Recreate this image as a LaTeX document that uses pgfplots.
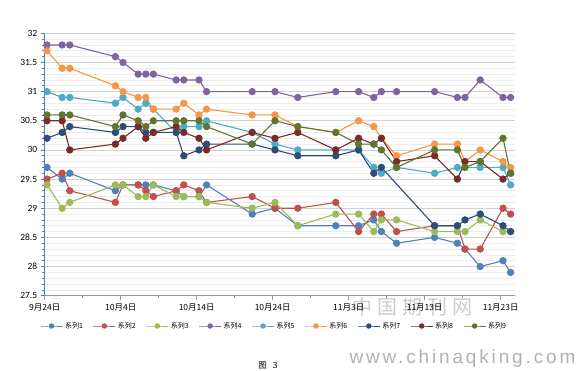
\documentclass[border=0pt]{standalone}
\usepackage{fontspec}
\setmainfont{Carlito}
\newfontfamily\cjk{Noto Sans CJK SC}
\newfontfamily\wm[LetterSpace=15]{Liberation Sans}
\usepackage{pgfplots}
\usepackage{pgfplotstable}
\pgfplotsset{compat=1.18}
\definecolor{c1}{HTML}{4F81BD}
\definecolor{c2}{HTML}{C0504D}
\definecolor{c3}{HTML}{9BBB59}
\definecolor{c4}{HTML}{8064A2}
\definecolor{c5}{HTML}{4BACC6}
\definecolor{c6}{HTML}{F79646}
\definecolor{c7}{HTML}{2C4D75}
\definecolor{c8}{HTML}{772C2A}
\definecolor{c9}{HTML}{5F7530}
\definecolor{axblue}{HTML}{4A7EBB}
\pgfplotstableread{
d s1 s2 s3 s4 s5 s6 s7 s8 s9
0 29.7 29.5 29.4 31.8 31.0 31.7 30.2 30.5 30.6
2 29.5 29.6 29.0 31.8 30.9 31.4 30.3 30.5 30.6
3 29.6 29.3 29.1 31.8 30.9 31.4 30.4 30.0 30.6
9 29.3 29.1 29.4 31.6 30.8 31.1 30.3 30.1 30.4
10 29.4 29.4 29.4 31.5 30.9 31.0 30.4 30.2 30.6
12 29.4 29.4 29.2 31.3 30.7 30.9 30.4 30.4 30.5
13 29.4 29.3 29.2 31.3 30.8 30.9 30.3 30.2 30.4
14 29.4 29.2 29.4 31.3 30.7 30.7 30.3 30.3 30.5
17 29.3 29.3 29.2 31.2 30.3 30.7 30.3 30.4 30.5
18 29.2 29.4 29.2 31.2 30.4 30.8 29.9 30.3 30.5
20 29.2 29.3 29.2 31.2 30.4 30.6 30.0 30.2 30.5
21 29.4 29.1 29.1 31.0 30.5 30.7 30.1 30.0 30.4
27 28.9 29.2 29.0 31.0 30.3 30.6 30.1 30.3 30.1
30 29.0 29.0 29.1 31.0 30.1 30.6 30.0 30.2 30.5
33 28.7 29.0 28.7 30.9 30.0 30.4 29.9 30.3 30.4
38 28.7 29.1 28.9 31.0 30.0 30.3 29.9 30.0 30.3
41 28.7 28.6 28.9 31.0 30.0 30.5 30.0 30.2 30.1
43 28.8 28.9 28.6 30.9 29.7 30.4 29.6 30.1 30.1
44 28.6 28.9 28.8 31.0 29.6 30.2 29.7 30.2 30.0
46 28.4 28.6 28.8 31.0 29.7 29.9 nan 29.8 29.7
51 28.5 28.7 28.6 31.0 29.6 30.1 28.7 29.9 30.0
54 28.4 28.7 28.6 30.9 29.7 30.1 28.7 29.5 30.0
55 28.3 28.3 28.6 30.9 29.7 29.8 28.8 29.8 29.7
57 28.0 28.3 28.8 31.2 29.7 30.0 28.9 29.8 29.8
60 28.1 29.0 28.6 30.9 29.7 29.8 28.7 29.5 30.2
61 27.9 28.9 28.6 30.9 29.4 29.7 28.6 29.6 29.6
}\data
\begin{document}
\begin{tikzpicture}[x=1pt,y=1pt]
\useasboundingbox (0,0) rectangle (580,370);
\fill[white] (0,0) rectangle (580,370);
% watermark
\node[text=gray!40, font=\cjk\fontsize{20}{22}\selectfont, anchor=center] at (412,63) {中\hspace{5pt}国\hspace{5pt}期\hspace{5pt}刊\hspace{5pt}网};
\begin{axis}[
  at={(44.7pt,74.3pt)}, anchor=south west,
  scale only axis, width=470.3pt, height=262.4pt,
  xmin=-0.3, xmax=61.58, ymin=27.5, ymax=32,
  axis x line=bottom, axis y line=left,
  x axis line style={-, draw=gray!80, line width=0.6pt},
  y axis line style={-, draw=axblue, line width=0.8pt},
  xtick={-0.3,9.7,19.7,29.7,39.7,49.7,59.7},
  xticklabels={9月24日,10月4日,10月14日,10月24日,11月3日,11月13日,11月23日},
  minor xtick={4.7,14.7,24.7,34.7,44.7,54.7},
  ytick={27.5,28,...,32},
  minor y tick num=4,
  tick align=outside,
  major tick length=4pt, minor tick length=2.5pt,
  x tick style={draw=gray!80, line width=0.5pt},
  y tick style={draw=axblue, line width=0.6pt},
  ymajorgrids, yminorgrids,
  major grid style={draw=gray!35, line width=0.6pt},
  minor grid style={draw=gray!15, line width=0.6pt},
  xticklabel style={font=\cjk\fontsize{8.5}{10}\selectfont, yshift=-1pt},
  yticklabel style={font=\fontsize{9.5}{11}\selectfont},
  /pgf/number format/assume math mode=true,
  /pgf/number format/fixed,
  every axis plot/.append style={line width=1.1pt, mark=*, mark size=3.1pt},
  legend columns=9,
  legend style={at={(0.4876,-0.1155)}, anchor=center, draw=none, fill=none,
    font=\cjk\fontsize{7}{8}\selectfont, inner sep=0pt,
    /tikz/every even column/.append style={column sep=8pt}},
  legend image code/.code={\draw[mark repeat=2,mark phase=2,#1,mark size=2.2pt,line width=1pt] plot coordinates {(0pt,0pt) (11pt,0pt) (22pt,0pt)};},
  clip=false,
]
\addplot[color=c1] table[x=d,y=s1] {\data};
\addplot[color=c2] table[x=d,y=s2] {\data};
\addplot[color=c3] table[x=d,y=s3] {\data};
\addplot[color=c4] table[x=d,y=s4] {\data};
\addplot[color=c5] table[x=d,y=s5] {\data};
\addplot[color=c6] table[x=d,y=s6] {\data};
\addplot[color=c7] table[x=d,y=s7] {\data};
\addplot[color=c8] table[x=d,y=s8] {\data};
\addplot[color=c9] table[x=d,y=s9] {\data};
\legend{系列1,系列2,系列3,系列4,系列5,系列6,系列7,系列8,系列9}
\end{axis}
\node[font=\cjk\fontsize{8.5}{10}\selectfont, anchor=center] at (268,5) {图\hspace{6pt}3};
\node[text=gray!60, font=\wm\fontsize{19}{22}\selectfont, anchor=west] at (346,11) {www.chinaqking.com};
\end{tikzpicture}
\end{document}
